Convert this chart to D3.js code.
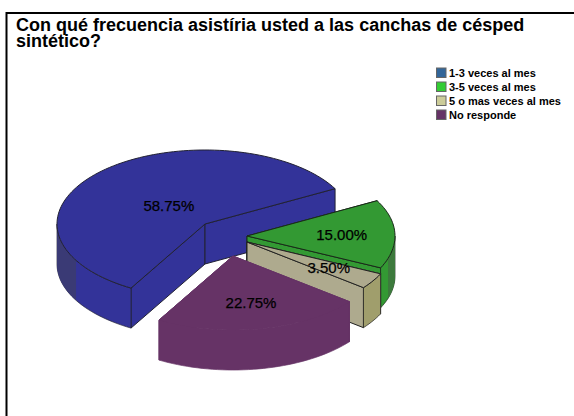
<!DOCTYPE html>
<html><head><meta charset="utf-8">
<script src="https://cdn.jsdelivr.net/npm/d3@7"></script>
<style>html,body{margin:0;padding:0;background:#fff}svg{display:block}text{font-family:"Liberation Sans",Arial,sans-serif;fill:#000}</style>
</head><body><svg id="c" width="574" height="416"></svg>
<script>
const titleLines = ["Con qué frecuencia asistíria usted a las canchas de césped", "sintético?"];
const categories = ["1-3 veces al mes", "3-5 veces al mes", "5 o mas veces al mes", "No responde"];
const values = [58.75, 15.00, 3.50, 22.75];
const labels = ["58.75%", "15.00%", "3.50%", "22.75%"];
const legendColors = ["#336699", "#33cc33", "#cccc99", "#663366"];

const topColors = ["#333399", "#339933", "#aeaa8e", "#663366"];
const wallColors = ["#333399", "#339933", "#a09e6c", "#663366"];
const cutColors = ["#333399", "#339933", "#aeaa8e", "#663366"];
const darkColors = ["#3a3a75", "#3d7a3d", "#a09e6c", "#663366"];
const strokes = ["#222233", "#1a2a1a", "#222222", "#663366"];
const centers = [[205, 224], [247, 236], [247, 242], [233, 256]];
const labelFrac = [0.35, 0.64, 0.65, 0.64];
const darkRange = [[240.6, 270], [90, 107.6], null, null];

const RX = 148, RY = 74, DEPTH = 40;
const rad = d => d * Math.PI / 180;
const svg = d3.select("#c");

const pie = d3.pie().sort(null).startAngle(rad(210)).endAngle(rad(210 + 360));
const arcs = pie(values);

const pt = (c, a, dz = 0, f = 1) => [c[0] + RX * f * Math.sin(a), c[1] - RY * f * Math.cos(a) + dz];
const line = d3.line();
const sample = (a0, a1) => { const n = Math.max(2, Math.ceil((a1 - a0) / rad(2))); return d3.range(n + 1).map(i => a0 + (a1 - a0) * i / n); };

function rimPath(c, a0, a1) {
  const s = sample(a0, a1);
  return line([...s.map(a => pt(c, a)), ...s.slice().reverse().map(a => pt(c, a, DEPTH))]) + "Z";
}
function cutPath(c, a) {
  return line([c, pt(c, a), pt(c, a, DEPTH), [c[0], c[1] + DEPTH]]) + "Z";
}
function topPath(c, a0, a1) {
  return line([c, ...sample(a0, a1).map(a => pt(c, a))]) + "Z";
}
function frontPart(a0, a1) {
  for (const k of [0, 1]) {
    const lo = Math.max(a0, rad(90 + 360 * k)), hi = Math.min(a1, rad(270 + 360 * k));
    if (hi > lo) return [lo, hi];
  }
  return null;
}

const g = svg.append("g");
arcs.forEach((d, i) => {
  const c = centers[i], a0 = d.startAngle, a1 = d.endAngle;
  const sl = g.append("g");
  const st = strokes[i];
  sl.append("path").attr("d", cutPath(c, a0)).attr("fill", cutColors[i]).attr("stroke", st);
  sl.append("path").attr("d", cutPath(c, a1)).attr("fill", cutColors[i]).attr("stroke", st);
  const fp = frontPart(a0, a1);
  if (fp) {
    sl.append("path").attr("d", rimPath(c, fp[0], fp[1])).attr("fill", wallColors[i]).attr("stroke", st).attr("stroke-width", 0.7);
    if (darkRange[i]) {
      sl.append("path").attr("d", rimPath(c, rad(darkRange[i][0]), rad(darkRange[i][1]))).attr("fill", darkColors[i]);
    }
  }
  sl.append("path").attr("d", topPath(c, a0, a1)).attr("fill", topColors[i]).attr("stroke", st).attr("stroke-linejoin", "round");
});

arcs.forEach((d, i) => {
  const p = pt(centers[i], (d.startAngle + d.endAngle) / 2, 0, labelFrac[i]);
  svg.append("text").attr("x", p[0]).attr("y", p[1]).attr("dy", "0.35em").attr("text-anchor", "middle")
    .attr("font-size", 15).attr("stroke", "#000").attr("stroke-width", 0.25).text(labels[i]);
});

svg.append("path").attr("d", "M6.5 416V13H574").attr("fill", "none").attr("stroke", "#000").attr("stroke-width", 2);

svg.selectAll("text.title").data(titleLines).join("text").attr("class", "title")
  .attr("x", 16).attr("y", (d, i) => 30.5 + i * 16.5)
  .attr("font-size", 18).attr("font-weight", "bold").text(d => d);

const ly = d3.scalePoint().domain(categories).range([73, 115]);
const lg = svg.selectAll("g.lg").data(categories).join("g").attr("class", "lg").attr("transform", d => `translate(436.5,${ly(d)})`);
lg.append("rect").attr("x", 0).attr("y", -5).attr("width", 9.5).attr("height", 9.5)
  .attr("fill", (d, i) => legendColors[i]).attr("stroke", "#666").attr("stroke-width", 1);
lg.append("text").attr("x", 12.5).attr("y", 4).attr("font-size", 11).attr("font-weight", "bold").text(d => d);
</script></body></html>
